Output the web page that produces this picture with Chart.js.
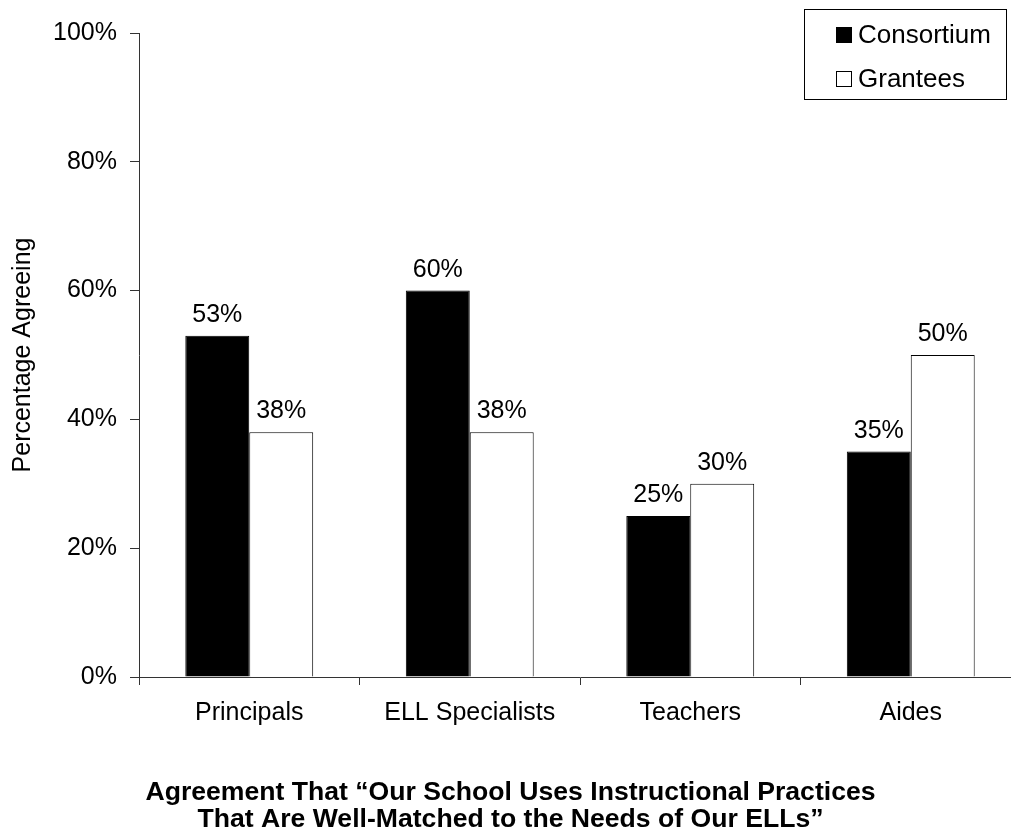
<!DOCTYPE html>
<html>
<head>
<meta charset="utf-8">
<script src="https://cdn.jsdelivr.net/npm/chart.js@4/dist/chart.umd.min.js"></script>
<style>
  html, body { margin: 0; padding: 0; background: #ffffff; overflow: hidden; }
  #wrap { position: relative; width: 1021px; height: 833px; }
</style>
</head>
<body>
<div id="wrap"><canvas id="c" width="1021" height="833"></canvas></div>
<script>
const categories = ["Principals", "ELL Specialists", "Teachers", "Aides"];
const seriesNames = ["Consortium", "Grantees"];
const consortium = [53, 60, 25, 35];
const grantees = [38, 38, 30, 50];
const yTickValues = [0, 20, 40, 60, 80, 100];
const yAxisTitle = "Percentage Agreeing";
const chartTitle = ["Agreement That \u201cOur School Uses Instructional Practices", "That Are Well-Matched to the Needs of Our ELLs\u201d"];

const FONT = "'Liberation Sans', Arial, Helvetica, sans-serif";

const valueLabels = {
  id: 'valueLabels',
  afterDatasetsDraw(chart) {
    const ctx = chart.ctx;
    ctx.save();
    ctx.font = "25px " + FONT;
    ctx.fillStyle = "#000";
    ctx.textAlign = "center";
    ctx.textBaseline = "alphabetic";
    chart.data.datasets.forEach((ds, i) => {
      const meta = chart.getDatasetMeta(i);
      meta.data.forEach((el, j) => {
        ctx.fillText(ds.data[j] + "%", el.x, el.y - 14);
      });
    });
    ctx.restore();
  }
};

const boxLegend = {
  id: 'boxLegend',
  afterDraw(chart, args, opts) {
    const ctx = chart.ctx;
    ctx.save();
    ctx.strokeStyle = "#000";
    ctx.lineWidth = 1;
    ctx.fillStyle = "#fff";
    ctx.fillRect(opts.x, opts.y, opts.w, opts.h);
    ctx.strokeRect(opts.x + 0.5, opts.y + 0.5, opts.w, opts.h);
    ctx.font = "26px " + FONT;
    ctx.textBaseline = "middle";
    ctx.textAlign = "left";
    chart.data.datasets.forEach((ds, i) => {
      const cy = opts.y + opts.firstRow + i * opts.rowGap;
      const s = opts.marker;
      ctx.fillStyle = ds.backgroundColor;
      ctx.fillRect(opts.x + opts.markerX, cy - s / 2, s, s);
      ctx.strokeStyle = "#000";
      ctx.strokeRect(opts.x + opts.markerX + 0.5, cy - s / 2 + 0.5, s - 1, s - 1);
      ctx.fillStyle = "#000";
      ctx.fillText(ds.label, opts.x + opts.textX, cy + 1);
    });
    ctx.restore();
  }
};

new Chart(document.getElementById('c'), {
  type: 'bar',
  data: {
    labels: categories,
    datasets: [
      { label: seriesNames[0], data: consortium, backgroundColor: "#000000", borderColor: "#000000", borderWidth: 1 },
      { label: seriesNames[1], data: grantees, backgroundColor: "#ffffff", borderColor: "#000000", borderWidth: 1 }
    ]
  },
  options: {
    responsive: false,
    animation: false,
    events: [],
    layout: { padding: { top: 33, right: 0, left: 0, bottom: 0 } },
    datasets: { bar: { categoryPercentage: 0.58, barPercentage: 1.0 } },
    plugins: {
      legend: { display: false },
      tooltip: { enabled: false },
      title: {
        display: true,
        position: 'bottom',
        text: chartTitle,
        color: "#000",
        font: { family: FONT, size: 26.6, weight: 'bold', lineHeight: 1.0 },
        padding: { top: 0, bottom: 0 }
      },
      boxLegend: { x: 804, y: 9, w: 202, h: 90, marker: 16, markerX: 32, textX: 54, firstRow: 26, rowGap: 44 }
    },
    scales: {
      x: {
        afterFit(scale) { scale.height = 102.8; },
        grid: { display: true, drawOnChartArea: false, drawTicks: true, tickLength: 8, color: "#333", lineWidth: 1, offset: true },
        border: { display: true, color: "#333", width: 1 },
        ticks: { color: "#000", padding: 13, font: { family: FONT, size: 25 }, maxRotation: 0 }
      },
      y: {
        min: 0,
        max: 100,
        afterFit(scale) { scale.width = 139; },
        afterBuildTicks(scale) { scale.ticks = yTickValues.map(v => ({ value: v })); },
        grid: { display: true, drawOnChartArea: false, drawTicks: true, tickLength: 9, color: "#333", lineWidth: 1 },
        border: { display: true, color: "#333", width: 1 },
        ticks: { color: "#000", padding: 13, font: { family: FONT, size: 25 }, callback: v => v + "%" },
        title: {
          display: true,
          text: yAxisTitle,
          color: "#000",
          font: { family: FONT, size: 25, lineHeight: 1.2 },
          padding: { top: 8, bottom: 0 }
        }
      }
    }
  },
  plugins: [valueLabels, boxLegend]
});
</script>
</body>
</html>
